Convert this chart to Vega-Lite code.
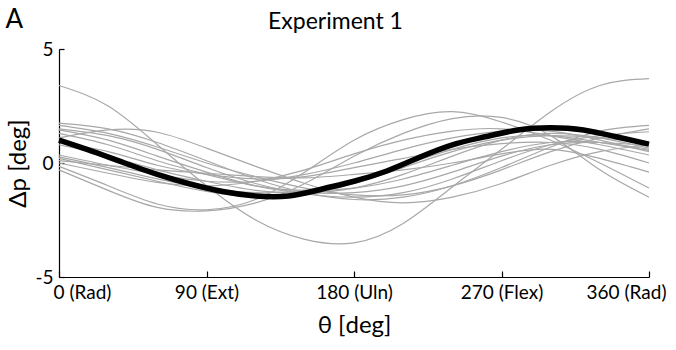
{
  "$schema": "https://vega.github.io/schema/vega-lite/v6.json",
  "width": 590,
  "height": 228,
  "autosize": {"type": "none"},
  "padding": {"left": 59, "top": 49, "right": 27, "bottom": 73},
  "background": "white",
  "config": {
    "view": {"stroke": null},
    "font": "Lato",
    "axis": {"grid": false, "domainColor": "black", "tickColor": "black", "labelColor": "black", "titleColor": "black", "labelFont": "Lato", "titleFont": "Lato", "titleFontWeight": "normal", "domainWidth": 1.2, "tickWidth": 1.2}
  },
  "datasets": {
    "gray": [
      {"id":1,"t":0,"v":3.4},{"id":1,"t":30,"v":2.5},{"id":1,"t":60,"v":0.8},{"id":1,"t":90,"v":-1.0},{"id":1,"t":120,"v":-2.5},{"id":1,"t":150,"v":-3.35},{"id":1,"t":180,"v":-3.5},{"id":1,"t":210,"v":-2.65},{"id":1,"t":240,"v":-1.05},{"id":1,"t":270,"v":0.6},{"id":1,"t":300,"v":2.25},{"id":1,"t":330,"v":3.4},{"id":1,"t":360,"v":3.7},
      {"id":2,"t":0,"v":1.1},{"id":2,"t":30,"v":1.45},{"id":2,"t":60,"v":1.35},{"id":2,"t":90,"v":0.65},{"id":2,"t":120,"v":-0.15},{"id":2,"t":150,"v":-0.9},{"id":2,"t":180,"v":-1.5},{"id":2,"t":210,"v":-1.75},{"id":2,"t":240,"v":-1.5},{"id":2,"t":270,"v":-0.9},{"id":2,"t":300,"v":-0.1},{"id":2,"t":330,"v":0.5},{"id":2,"t":360,"v":0.8},
      {"id":3,"t":0,"v":-0.15},{"id":3,"t":30,"v":-1.0},{"id":3,"t":60,"v":-1.8},{"id":3,"t":90,"v":-2.05},{"id":3,"t":120,"v":-1.6},{"id":3,"t":150,"v":-0.4},{"id":3,"t":180,"v":1.0},{"id":3,"t":210,"v":1.9},{"id":3,"t":240,"v":2.25},{"id":3,"t":270,"v":1.8},{"id":3,"t":300,"v":1.0},{"id":3,"t":330,"v":0.0},{"id":3,"t":360,"v":-1.1},
      {"id":4,"t":0,"v":-0.3},{"id":4,"t":30,"v":-1.2},{"id":4,"t":60,"v":-1.95},{"id":4,"t":90,"v":-2.1},{"id":4,"t":120,"v":-1.75},{"id":4,"t":150,"v":-0.9},{"id":4,"t":180,"v":0.3},{"id":4,"t":210,"v":1.3},{"id":4,"t":240,"v":1.95},{"id":4,"t":270,"v":2.0},{"id":4,"t":300,"v":1.2},{"id":4,"t":330,"v":-0.3},{"id":4,"t":360,"v":-1.5},
      {"id":5,"t":0,"v":1.75},{"id":5,"t":30,"v":1.5},{"id":5,"t":60,"v":0.9},{"id":5,"t":90,"v":0.1},{"id":5,"t":120,"v":-0.7},{"id":5,"t":150,"v":-1.3},{"id":5,"t":180,"v":-1.6},{"id":5,"t":210,"v":-1.5},{"id":5,"t":240,"v":-1.0},{"id":5,"t":270,"v":-0.2},{"id":5,"t":300,"v":0.7},{"id":5,"t":330,"v":1.4},{"id":5,"t":360,"v":1.65},
      {"id":6,"t":0,"v":1.65},{"id":6,"t":30,"v":1.3},{"id":6,"t":60,"v":0.7},{"id":6,"t":90,"v":0.0},{"id":6,"t":120,"v":-0.6},{"id":6,"t":150,"v":-1.1},{"id":6,"t":180,"v":-1.4},{"id":6,"t":210,"v":-1.4},{"id":6,"t":240,"v":-1.0},{"id":6,"t":270,"v":-0.3},{"id":6,"t":300,"v":0.5},{"id":6,"t":330,"v":1.1},{"id":6,"t":360,"v":1.5},
      {"id":7,"t":0,"v":1.5},{"id":7,"t":30,"v":1.2},{"id":7,"t":60,"v":0.6},{"id":7,"t":90,"v":-0.2},{"id":7,"t":120,"v":-0.9},{"id":7,"t":150,"v":-1.35},{"id":7,"t":180,"v":-1.5},{"id":7,"t":210,"v":-1.3},{"id":7,"t":240,"v":-0.7},{"id":7,"t":270,"v":0.1},{"id":7,"t":300,"v":0.8},{"id":7,"t":330,"v":1.2},{"id":7,"t":360,"v":1.37},
      {"id":8,"t":0,"v":1.45},{"id":8,"t":30,"v":1.0},{"id":8,"t":60,"v":0.3},{"id":8,"t":90,"v":-0.4},{"id":8,"t":120,"v":-1.0},{"id":8,"t":150,"v":-1.3},{"id":8,"t":180,"v":-1.3},{"id":8,"t":210,"v":-1.0},{"id":8,"t":240,"v":-0.4},{"id":8,"t":270,"v":0.3},{"id":8,"t":300,"v":0.8},{"id":8,"t":330,"v":0.9},{"id":8,"t":360,"v":0.75},
      {"id":9,"t":0,"v":1.3},{"id":9,"t":30,"v":0.8},{"id":9,"t":60,"v":0.1},{"id":9,"t":90,"v":-0.5},{"id":9,"t":120,"v":-1.0},{"id":9,"t":150,"v":-1.2},{"id":9,"t":180,"v":-1.1},{"id":9,"t":210,"v":-0.7},{"id":9,"t":240,"v":-0.1},{"id":9,"t":270,"v":0.5},{"id":9,"t":300,"v":0.9},{"id":9,"t":330,"v":0.9},{"id":9,"t":360,"v":0.6},
      {"id":10,"t":0,"v":0.9},{"id":10,"t":30,"v":0.5},{"id":10,"t":60,"v":-0.1},{"id":10,"t":90,"v":-0.5},{"id":10,"t":120,"v":-0.7},{"id":10,"t":150,"v":-0.6},{"id":10,"t":180,"v":-0.2},{"id":10,"t":210,"v":0.2},{"id":10,"t":240,"v":0.6},{"id":10,"t":270,"v":0.85},{"id":10,"t":300,"v":0.9},{"id":10,"t":330,"v":0.6},{"id":10,"t":360,"v":0.0},
      {"id":11,"t":0,"v":0.8},{"id":11,"t":30,"v":0.3},{"id":11,"t":60,"v":-0.3},{"id":11,"t":90,"v":-0.8},{"id":11,"t":120,"v":-1.2},{"id":11,"t":150,"v":-1.3},{"id":11,"t":180,"v":-1.1},{"id":11,"t":210,"v":-0.5},{"id":11,"t":240,"v":0.3},{"id":11,"t":270,"v":1.0},{"id":11,"t":300,"v":1.3},{"id":11,"t":330,"v":1.1},{"id":11,"t":360,"v":0.65},
      {"id":12,"t":0,"v":0.35},{"id":12,"t":30,"v":-0.1},{"id":12,"t":60,"v":-0.5},{"id":12,"t":90,"v":-0.8},{"id":12,"t":120,"v":-0.8},{"id":12,"t":150,"v":-0.5},{"id":12,"t":180,"v":0.0},{"id":12,"t":210,"v":0.6},{"id":12,"t":240,"v":1.1},{"id":12,"t":270,"v":1.4},{"id":12,"t":300,"v":1.4},{"id":12,"t":330,"v":1.0},{"id":12,"t":360,"v":0.5},
      {"id":13,"t":0,"v":0.27},{"id":13,"t":30,"v":-0.2},{"id":13,"t":60,"v":-0.7},{"id":13,"t":90,"v":-1.1},{"id":13,"t":120,"v":-1.3},{"id":13,"t":150,"v":-1.2},{"id":13,"t":180,"v":-0.8},{"id":13,"t":210,"v":-0.1},{"id":13,"t":240,"v":0.6},{"id":13,"t":270,"v":1.1},{"id":13,"t":300,"v":1.2},{"id":13,"t":330,"v":0.9},{"id":13,"t":360,"v":0.55},
      {"id":14,"t":0,"v":0.2},{"id":14,"t":30,"v":-0.3},{"id":14,"t":60,"v":-0.8},{"id":14,"t":90,"v":-1.25},{"id":14,"t":120,"v":-1.5},{"id":14,"t":150,"v":-1.4},{"id":14,"t":180,"v":-0.9},{"id":14,"t":210,"v":-0.2},{"id":14,"t":240,"v":0.5},{"id":14,"t":270,"v":1.0},{"id":14,"t":300,"v":1.2},{"id":14,"t":330,"v":1.1},{"id":14,"t":360,"v":0.9},
      {"id":15,"t":0,"v":0.1},{"id":15,"t":30,"v":-0.1},{"id":15,"t":60,"v":-0.3},{"id":15,"t":90,"v":-0.45},{"id":15,"t":120,"v":-0.6},{"id":15,"t":150,"v":-0.65},{"id":15,"t":180,"v":-0.5},{"id":15,"t":210,"v":-0.3},{"id":15,"t":240,"v":0.0},{"id":15,"t":270,"v":0.4},{"id":15,"t":300,"v":0.6},{"id":15,"t":330,"v":0.2},{"id":15,"t":360,"v":-0.4},
      {"id":16,"t":0,"v":0.0},{"id":16,"t":30,"v":-0.45},{"id":16,"t":60,"v":-0.85},{"id":16,"t":90,"v":-1.0},{"id":16,"t":120,"v":-0.8},{"id":16,"t":150,"v":-0.3},{"id":16,"t":180,"v":0.4},{"id":16,"t":210,"v":1.0},{"id":16,"t":240,"v":1.4},{"id":16,"t":270,"v":1.5},{"id":16,"t":300,"v":1.2},{"id":16,"t":330,"v":0.8},{"id":16,"t":360,"v":0.35}
    ],
    "mean": [
      {"t":0,"v":1.0},{"t":20,"v":0.52},{"t":40,"v":0.0},{"t":60,"v":-0.5},{"t":80,"v":-0.92},{"t":100,"v":-1.25},{"t":120,"v":-1.45},{"t":140,"v":-1.45},{"t":160,"v":-1.15},{"t":180,"v":-0.8},{"t":200,"v":-0.35},{"t":220,"v":0.25},{"t":240,"v":0.8},{"t":260,"v":1.15},{"t":280,"v":1.45},{"t":300,"v":1.55},{"t":320,"v":1.45},{"t":340,"v":1.15},{"t":360,"v":0.83}
    ]
  },
  "layer": [
    {
      "data": {"name": "gray"},
      "mark": {"type": "line", "interpolate": "natural", "stroke": "#a8a8a8", "strokeWidth": 1.2},
      "encoding": {
        "x": {"field": "t", "type": "quantitative", "scale": {"domain": [0, 360], "nice": false},
          "axis": {"orient": "bottom", "values": [0, 90, 180, 270, 360], "tickSize": -6, "labelFontSize": 19, "labelPadding": 12, "labelFlush": false,
            "labelExpr": "datum.value == 0 ? '0 (Rad)' : datum.value == 90 ? '90 (Ext)' : datum.value == 180 ? '180 (Uln)' : datum.value == 270 ? '270 (Flex)' : '360 (Rad)'",
            "labelOffset": {"expr": "datum.value == 0 ? 23 : datum.value == 360 ? -23 : 0"},
            "title": "θ [deg]", "titleFontSize": 24, "titlePadding": 11}},
        "y": {"field": "v", "type": "quantitative", "scale": {"domain": [-5, 5], "nice": false},
          "axis": {"orient": "left", "values": [-5, 0, 5], "tickSize": -5, "labelFontSize": 19, "labelPadding": 11,
            "labelExpr": "datum.value < 0 ? '-' + abs(datum.value) : datum.label",
            "title": "Δp [deg]", "titleFontSize": 24, "titlePadding": 4}},
        "detail": {"field": "id", "type": "nominal"}
      }
    },
    {
      "data": {"name": "mean"},
      "mark": {"type": "line", "interpolate": "natural", "stroke": "black", "strokeWidth": 5.5},
      "encoding": {
        "x": {"field": "t", "type": "quantitative", "scale": {"domain": [0, 360], "nice": false},
          "axis": {"orient": "top", "domain": false, "ticks": false, "labels": false, "title": "Experiment 1", "titleFontSize": 23, "titleX": 276, "titleY": -21, "titleBaseline": "alphabetic", "titleAlign": "center"}},
        "y": {"field": "v", "type": "quantitative", "scale": {"domain": [-5, 5], "nice": false},
          "axis": {"orient": "right", "domain": false, "ticks": false, "labels": false, "title": "A", "titleAngle": 0, "titleFontSize": 26, "titleX": -644, "titleY": -22, "titleBaseline": "alphabetic", "titleAlign": "left"}}
      }
    }
  ],
  "resolve": {"axis": {"x": "independent", "y": "independent"}}
}
